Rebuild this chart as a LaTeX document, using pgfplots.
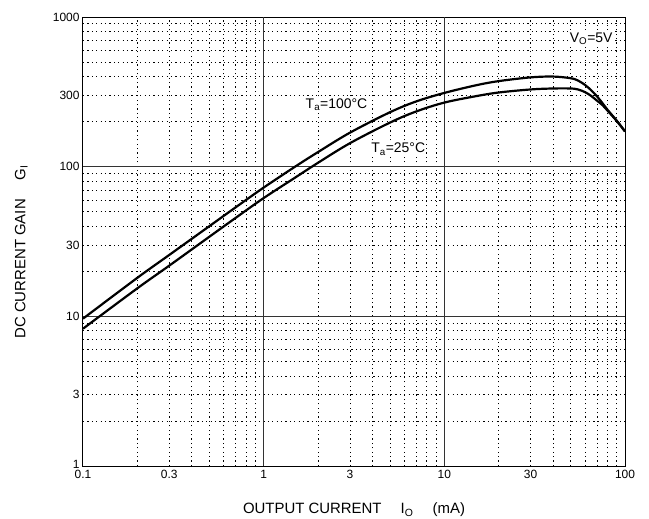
\documentclass[border=0pt]{standalone}
\usepackage{fontspec}
\setmainfont{Liberation Sans}
\usepackage{pgfplots}
\pgfplotsset{compat=1.18}

\begin{document}
\begin{tikzpicture}
\begin{loglogaxis}[
    scale only axis,
    width=542bp, height=449bp,
    xmin=0.1, xmax=100,
    ymin=1, ymax=1000,
    xtick={0.1,0.3,1,3,10,30,100},
    xticklabels={0.1,0.3,1,3,10,30,100},
    ytick={1,3,10,30,100,300,1000},
    yticklabels={\raisebox{4bp}{1},3,10,30,100,300,1000},
    minor xtick={0.2,0.3,0.4,0.5,0.6,0.7,0.8,0.9,2,3,4,5,6,7,8,9,20,30,40,50,60,70,80,90},
    minor ytick={2,3,4,5,6,7,8,9,20,30,40,50,60,70,80,90,200,300,400,500,600,700,800,900},
    major tick length=0pt, minor tick length=0pt,
    xminorgrids, yminorgrids,
    minor grid style={black, line width=0.7bp, dash pattern=on 1.2bp off 3.2bp},
    major grid style={black!80, line width=0.9bp},
    extra x ticks={1,10}, extra x tick labels={},
    extra x tick style={grid=major},
    extra y ticks={10,100}, extra y tick labels={},
    extra y tick style={grid=major},
    axis line style={line width=1bp},
    tick label style={font=\fontsize{12}{13}\selectfont},
    xticklabel style={yshift=-1bp},
    xlabel={OUTPUT CURRENT\quad\ I\textsubscript{O}\quad\ (mA)},
    ylabel={DC CURRENT GAIN\quad\ G\textsubscript{I}},
    every axis x label/.style={at={(axis description cs:0.5,-0.098)}, anchor=center,
        font=\fontsize{15}{16}\selectfont},
    every axis y label/.style={at={(axis description cs:-0.114,0.477)}, rotate=90, anchor=center,
        font=\fontsize{15}{16}\selectfont},
]
% Ta = 100 C
\addplot[black, line width=2.2bp, smooth, tension=0.55] coordinates {
    (0.1,9.65) (0.2,18.1) (0.3,25.7) (0.5,40.0) (0.7,53.5) (1,72.5)
    (1.5,100.4) (2,125.2) (3,168.6) (5,231) (7,273) (10,311) (15,350) (20,373)
    (30,395) (40,400) (50,390) (55,376) (60,352) (65,324) (70,295) (75,266)
    (80,240) (90,203) (100,172)
};
% Ta = 25 C
\addplot[black, line width=2.2bp, smooth, tension=0.55] coordinates {
    (0.1,8.27) (0.2,15.4) (0.3,21.8) (0.5,34.0) (0.7,45.5) (1,61.7)
    (1.5,84.8) (2,106.2) (3,143.4) (5,197) (7,234) (10,268) (15,296) (20,313)
    (30,328) (40,333) (50,333) (55,328) (60,315) (65,297) (70,276) (75,258)
    (80,237) (90,202) (100,172)
};
\node[fill=white, inner sep=1bp, font=\fontsize{14}{15}\selectfont] at (axis cs:2.53,258) {T\textsubscript{a}=100°C};
\node[fill=white, inner sep=1bp, font=\fontsize{14}{15}\selectfont] at (axis cs:5.56,131) {T\textsubscript{a}=25°C};
\node[fill=white, inner sep=2bp, font=\fontsize{14}{15}\selectfont] at (axis cs:65,720) {V\textsubscript{O}=5V};
\end{loglogaxis}
\pgfresetboundingbox
\path (current axis.south west) ++(-83bp,-52bp) coordinate (bl);
\path (current axis.north east) ++(24bp,17bp) coordinate (tr);
\useasboundingbox (bl) rectangle (tr);
\end{tikzpicture}
\end{document}
